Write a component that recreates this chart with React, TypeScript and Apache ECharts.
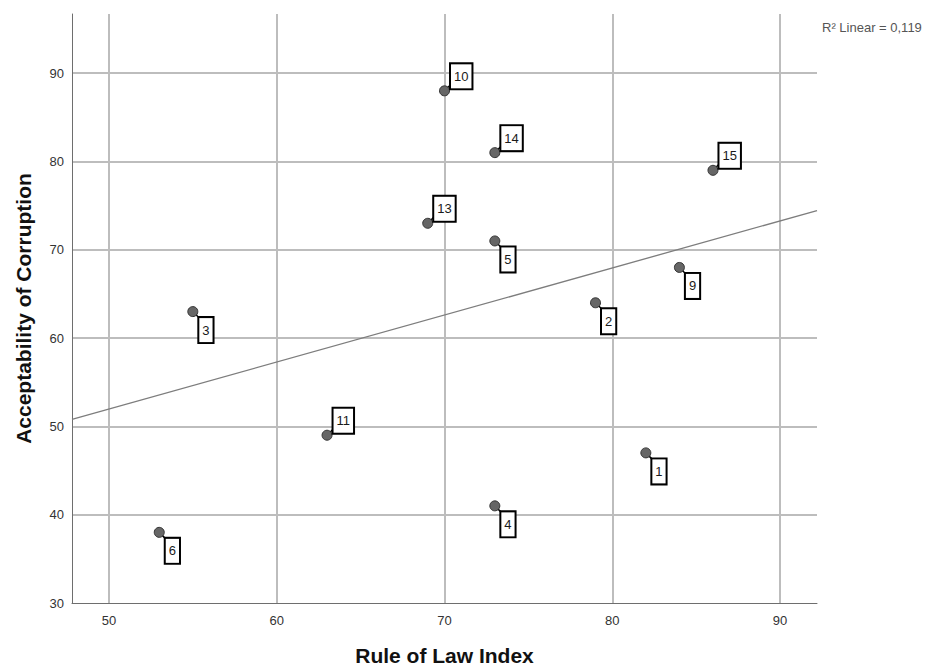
import React, { useEffect, useRef } from "react";
import * as echarts from "echarts";

// Case numbers shown in the point labels
const caseIds = [1, 2, 3, 4, 5, 6, 9, 10, 11, 13, 14, 15];
// Rule of Law Index (x)
const lawIndex = [82, 79, 55, 73, 73, 53, 84, 70, 63, 69, 73, 86];
// Acceptability of Corruption (y)
const corruption = [47, 64, 63, 41, 71, 38, 68, 88, 49, 73, 81, 79];
// Label placement relative to point
const labelSide = ["below", "below", "below", "below", "below", "below", "below", "up", "up", "up", "up", "up"];

const xTicks = [50, 60, 70, 80, 90];
const yTicks = [30, 40, 50, 60, 70, 80, 90];

const X_MIN = 47.8;
const X_MAX = 92.2;
const Y_MIN = 30;
const Y_MAX = 96.7;

const FONT = "'Liberation Sans', Arial, Helvetica, sans-serif";

function linearFit(xs: number[], ys: number[]) {
  const n = xs.length;
  const mx = xs.reduce((a, b) => a + b, 0) / n;
  const my = ys.reduce((a, b) => a + b, 0) / n;
  let sxy = 0, sxx = 0, syy = 0;
  for (let i = 0; i < n; i++) {
    sxy += (xs[i] - mx) * (ys[i] - my);
    sxx += (xs[i] - mx) ** 2;
    syy += (ys[i] - my) ** 2;
  }
  const slope = sxy / sxx;
  const intercept = my - slope * mx;
  const r2 = (sxy * sxy) / (sxx * syy);
  return { slope, intercept, r2 };
}

export default function App() {
  const ref = useRef<HTMLDivElement>(null);

  useEffect(() => {
    document.body.style.margin = "0";
    if (!ref.current) return;
    const chart = echarts.init(ref.current, undefined, { renderer: "svg" });
    const fit = linearFit(lawIndex, corruption);
    const r2Text = "R\u00B2 Linear = " + fit.r2.toFixed(3).replace(".", ",");

    const points = lawIndex.map((x, i) => ({
      value: [x, corruption[i]],
      name: String(caseIds[i]),
      label: {
        position: labelSide[i] === "up" ? [12, -21] : [12, 12],
      },
    }));

    const leaders = lawIndex.map((x, i) => {
      const up = labelSide[i] === "up";
      return {
        value: [x, corruption[i]],
        symbol: up ? "path://M0,10L10,0" : "path://M0,0L10,10",
        symbolOffset: up ? [5, -5] : [5, 5],
      };
    });

    chart.setOption({
      animation: false,
      backgroundColor: "#ffffff",
      textStyle: { fontFamily: FONT },
      grid: {
        left: 72,
        right: 114,
        top: 14,
        bottom: 65,
        containLabel: false,
        outerBoundsMode: "none",
      },
      xAxis: {
        type: "value",
        min: X_MIN,
        max: X_MAX,
        name: "Rule of Law Index",
        nameLocation: "middle",
        nameGap: 42,
        nameTextStyle: { fontSize: 21, fontWeight: "bold", color: "#111", fontFamily: FONT },
        axisLine: { show: true, lineStyle: { color: "#6e6e6e", width: 1 } },
        axisTick: { show: false, customValues: xTicks },
        axisLabel: { customValues: xTicks, color: "#333", fontSize: 13, margin: 11, fontFamily: FONT },
        splitLine: { show: true, lineStyle: { color: "#bdbdbd", width: 2 } },
      },
      yAxis: {
        type: "value",
        min: Y_MIN,
        max: Y_MAX,
        name: "Acceptability of Corruption",
        nameLocation: "middle",
        nameGap: 38,
        nameTextStyle: { fontSize: 21, fontWeight: "bold", color: "#111", fontFamily: FONT },
        axisLine: { show: true, lineStyle: { color: "#6e6e6e", width: 1 } },
        axisTick: { show: false, customValues: yTicks.slice(1) },
        axisLabel: { customValues: yTicks, color: "#333", fontSize: 13, margin: 8, fontFamily: FONT },
        splitLine: { show: true, lineStyle: { color: "#bdbdbd", width: 2 } },
      },
      graphic: [
        {
          type: "text",
          left: 822,
          top: 21,
          style: { text: r2Text, fontSize: 13, fill: "#555", fontFamily: FONT },
        },
      ],
      series: [
        {
          type: "line",
          data: [
            [X_MIN, fit.intercept + fit.slope * X_MIN],
            [X_MAX, fit.intercept + fit.slope * X_MAX],
          ],
          symbol: "none",
          silent: true,
          z: 1,
          lineStyle: { color: "#7d7d7d", width: 1.3 },
        },
        {
          type: "scatter",
          data: leaders,
          symbolSize: 6,
          silent: true,
          z: 2,
          itemStyle: { color: "none", borderColor: "#000", borderWidth: 1.5, opacity: 1 },
        },
        {
          type: "scatter",
          data: points,
          symbolSize: 10,
          z: 3,
          itemStyle: { color: "#666666", borderColor: "#333333", borderWidth: 1, opacity: 1 },
          label: {
            show: true,
            formatter: "{b}",
            color: "#1a1a1a",
            fontSize: 13,
            fontFamily: FONT,
            lineHeight: 14,
            backgroundColor: "#ffffff",
            borderColor: "#000000",
            borderWidth: 2,
            padding: [5, 3, 5, 3],
          },
        },
      ],
    });
    return () => chart.dispose();
  }, []);

  return <div ref={ref} style={{ width: 931, height: 668 }} />;
}
